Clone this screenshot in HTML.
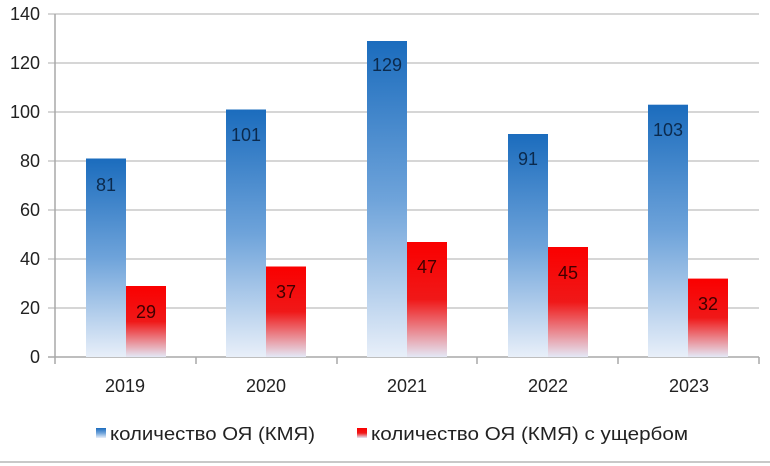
<!DOCTYPE html>
<html><head><meta charset="utf-8"><style>
html,body{margin:0;padding:0;background:#fff;}
svg{display:block;font-family:"Liberation Sans","DejaVu Sans",sans-serif;}
</style></head><body>
<svg width="770" height="466" viewBox="0 0 770 466" xmlns="http://www.w3.org/2000/svg">
<defs>
<linearGradient id="b" x1="0" y1="0" x2="0" y2="1">
<stop offset="0" stop-color="#1b6cbd"/><stop offset="0.5" stop-color="#6ea3da"/><stop offset="1" stop-color="#e8eff9"/>
</linearGradient>
<linearGradient id="r" x1="0" y1="0" x2="0" y2="1">
<stop offset="0" stop-color="#fa0000"/><stop offset="0.5" stop-color="#f01818"/><stop offset="1" stop-color="#e4e8f6"/>
</linearGradient>
</defs>
<g stroke="#c8c8c8" stroke-width="1.5">
<line x1="48" y1="14" x2="759" y2="14"/>
<line x1="48" y1="63" x2="759" y2="63"/>
<line x1="48" y1="112" x2="759" y2="112"/>
<line x1="48" y1="161" x2="759" y2="161"/>
<line x1="48" y1="210" x2="759" y2="210"/>
<line x1="48" y1="259" x2="759" y2="259"/>
<line x1="48" y1="308" x2="759" y2="308"/>
</g>
<g stroke="#a8a8a8" stroke-width="1.5">
<line x1="55" y1="14" x2="55" y2="364"/>
<line x1="48" y1="357" x2="759" y2="357"/>
<line x1="196" y1="357" x2="196" y2="364"/>
<line x1="337" y1="357" x2="337" y2="364"/>
<line x1="477" y1="357" x2="477" y2="364"/>
<line x1="618" y1="357" x2="618" y2="364"/>
<line x1="759" y1="357" x2="759" y2="364"/>
</g>
<g font-size="18" fill="#222" text-anchor="end">
<text x="40" y="20">140</text><text x="40" y="69">120</text><text x="40" y="118">100</text>
<text x="40" y="167">80</text><text x="40" y="216">60</text><text x="40" y="265">40</text>
<text x="40" y="314">20</text><text x="40" y="363">0</text>
</g>
<g>
<rect x="86" y="158.5" width="40" height="198.5" fill="url(#b)"/>
<rect x="126" y="286" width="40" height="71" fill="url(#r)"/>
<rect x="226" y="109.5" width="40" height="247.5" fill="url(#b)"/>
<rect x="266" y="266.5" width="40" height="90.5" fill="url(#r)"/>
<rect x="367" y="41" width="40" height="316" fill="url(#b)"/>
<rect x="407" y="242" width="40" height="115" fill="url(#r)"/>
<rect x="508" y="134" width="40" height="223" fill="url(#b)"/>
<rect x="548" y="247" width="40" height="110" fill="url(#r)"/>
<rect x="648" y="104.7" width="40" height="252.3" fill="url(#b)"/>
<rect x="688" y="278.6" width="40" height="78.4" fill="url(#r)"/>
</g>
<g font-size="18" text-anchor="middle">
<g fill="#0b2a4d">
<text x="106" y="191">81</text><text x="246" y="141">101</text><text x="387" y="71">129</text>
<text x="528" y="165">91</text><text x="668" y="136">103</text>
</g>
<g fill="#400000">
<text x="146" y="318">29</text><text x="286" y="298">37</text><text x="427" y="273">47</text>
<text x="568" y="279">45</text><text x="708" y="310">32</text>
</g>
</g>
<g font-size="18" fill="#222" text-anchor="middle">
<text x="125" y="392">2019</text><text x="266" y="392">2020</text><text x="407" y="392">2021</text>
<text x="548" y="392">2022</text><text x="689" y="392">2023</text>
</g>
<rect x="96" y="428" width="10" height="10" fill="url(#b)"/>
<text x="110" y="440" font-size="18" fill="#222" textLength="205" lengthAdjust="spacingAndGlyphs">количество ОЯ (КМЯ)</text>
<rect x="357" y="428" width="10" height="10" fill="url(#r)"/>
<text x="371" y="440" font-size="18" fill="#222" textLength="317" lengthAdjust="spacingAndGlyphs">количество ОЯ (КМЯ) с ущербом</text>
<line x1="0" y1="462" x2="770" y2="462" stroke="#c8c8c8" stroke-width="2"/>
</svg>
</body></html>
